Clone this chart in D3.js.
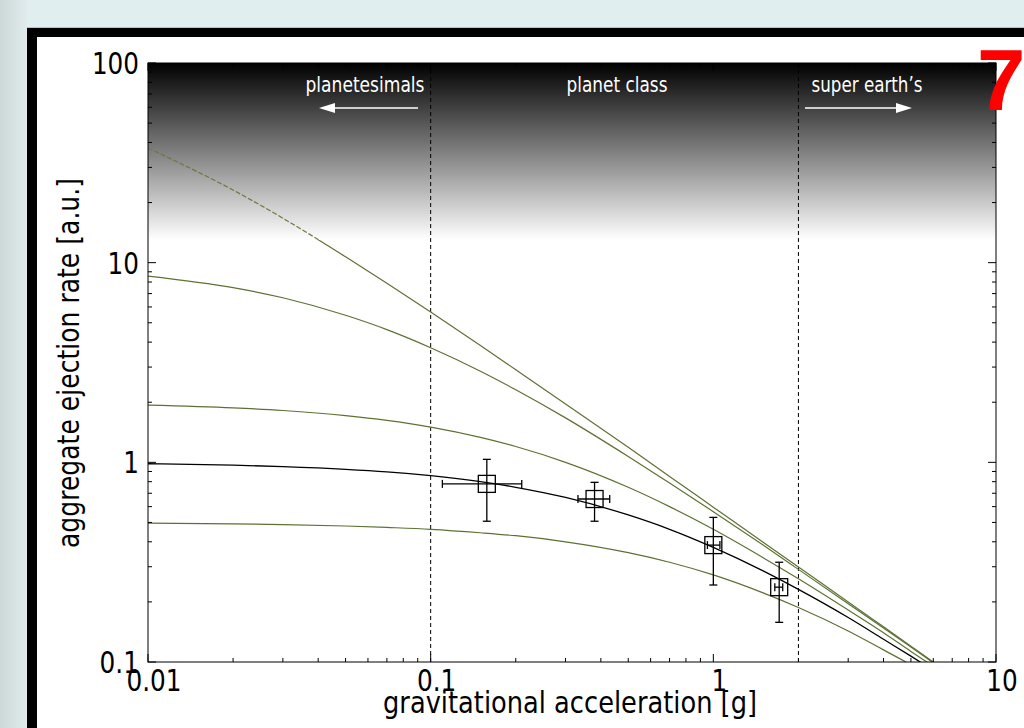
<!DOCTYPE html>
<html>
<head>
<meta charset="utf-8">
<script src="https://cdn.jsdelivr.net/npm/d3@7"></script>
<style>
  html, body { margin: 0; padding: 0; background: #e1eeef; overflow: hidden; }
  svg { display: block; font-family: "DejaVu Sans", sans-serif; }
</style>
</head>
<body>
<script>
// curve samples (x in g, y in a.u.)
const gSamples = [0.01, 0.02, 0.03, 0.05, 0.07, 0.1, 0.15, 0.2, 0.3, 0.5, 0.7, 1, 1.5, 2, 3, 4, 5, 6, 7];
const curve100 = [37.5, 23.1, 16.7, 10.7, 7.89, 5.66, 3.85, 2.91, 1.96, 1.19, 0.85, 0.596, 0.398, 0.299, 0.2, 0.15, 0.12, 0.1, 0.0856];
const curve10  = [8.57, 7.5, 6.67, 5.45, 4.62, 3.75, 2.86, 2.31, 1.67, 1.07, 0.789, 0.566, 0.385, 0.291, 0.196, 0.148, 0.119, 0.099, 0.085];
const curve2   = [1.935, 1.875, 1.818, 1.714, 1.622, 1.5, 1.333, 1.2, 1.0, 0.75, 0.6, 0.462, 0.333, 0.261, 0.182, 0.14, 0.113, 0.0952, 0.0822];
const curve1   = [0.984, 0.968, 0.952, 0.923, 0.896, 0.857, 0.8, 0.75, 0.667, 0.545, 0.462, 0.375, 0.286, 0.231, 0.167, 0.13, 0.107, 0.0909, 0.079];
const curve05  = [0.496, 0.492, 0.488, 0.48, 0.472, 0.462, 0.444, 0.429, 0.4, 0.353, 0.316, 0.273, 0.222, 0.1875, 0.143, 0.115, 0.0968, 0.0833, 0.073];

// measured points with error bars
const ptX    = [0.158, 0.38, 1.0, 1.71];
const ptY    = [0.78, 0.655, 0.385, 0.237];
const ptXlo  = [0.110, 0.332, 0.953, 1.65];
const ptXhi  = [0.210, 0.430, 1.055, 1.76];
const ptYlo  = [0.507, 0.507, 0.243, 0.158];
const ptYhi  = [1.035, 0.794, 0.53, 0.316];

const xTicks = [0.01, 0.1, 1, 10];
const yTicks = [0.1, 1, 10, 100];
const xTickLabels = ['0.01', '0.1', '1', '10'];
const yTickLabels = ['0.1', '1', '10', '100'];
const classBounds = [0.1, 2];
const regionLabels = ['planetesimals', 'planet class', 'super earth\u2019s'];
const fadeTo = 13;   // value where the dark band has faded to white

const width = 1024, height = 728;
const svg = d3.select('body').append('svg').attr('width', width).attr('height', height);
const defs = svg.append('defs');

// page background + frame
const side = defs.append('linearGradient').attr('id', 'side');
side.append('stop').attr('offset', '0%').attr('stop-color', '#cdd8d9');
side.append('stop').attr('offset', '100%').attr('stop-color', '#e0ecec');
svg.append('rect').attr('width', width).attr('height', height).attr('fill', '#e1eeef');
svg.append('rect').attr('width', 27).attr('height', height).attr('fill', 'url(#side)');
svg.append('rect').attr('x', 27).attr('y', 27).attr('width', 1100).attr('height', 1).attr('fill', '#b5c2c3');
svg.append('rect').attr('x', 27).attr('y', 28).attr('width', 1100).attr('height', 800).attr('fill', '#000');
svg.append('rect').attr('x', 37).attr('y', 37).attr('width', 1100).attr('height', 800).attr('fill', '#fff');

const pLeft = 148, pRight = 996, pTop = 63, pBottom = 662;
const x = d3.scaleLog().domain([0.01, 10]).range([pLeft, pRight]);
const y = d3.scaleLog().domain([0.1, 100]).range([pBottom, pTop]);

defs.append('clipPath').attr('id', 'plot').append('rect')
  .attr('x', pLeft).attr('y', pTop).attr('width', pRight - pLeft).attr('height', pBottom - pTop);
defs.append('clipPath').attr('id', 'dark').append('rect')
  .attr('x', pLeft).attr('y', pTop).attr('width', pRight - pLeft).attr('height', y(fadeTo) - pTop);
defs.append('clipPath').attr('id', 'light').append('rect')
  .attr('x', pLeft).attr('y', y(fadeTo)).attr('width', pRight - pLeft).attr('height', pBottom - y(fadeTo));

// dark band at the top
const band = defs.append('linearGradient').attr('id', 'band')
  .attr('gradientUnits', 'userSpaceOnUse')
  .attr('x1', 0).attr('x2', 0).attr('y1', pTop).attr('y2', y(fadeTo));
band.append('stop').attr('offset', '0%').attr('stop-color', '#000');
band.append('stop').attr('offset', '100%').attr('stop-color', '#fff');
svg.append('rect').attr('x', pLeft).attr('y', pTop).attr('width', pRight - pLeft)
  .attr('height', y(fadeTo) - pTop).attr('fill', 'url(#band)');

// class boundaries
svg.append('g').selectAll('line').data(classBounds).join('line')
  .attr('x1', d => x(d)).attr('x2', d => x(d)).attr('y1', pTop).attr('y2', pBottom)
  .attr('stroke', '#000').attr('stroke-width', 1).attr('stroke-dasharray', '4,3');

// curves
const line = d3.line().x((d, i) => x(gSamples[i])).y(d => y(d)).curve(d3.curveMonotoneX);
const green = '#5d7232';
const curves = svg.append('g').attr('clip-path', 'url(#plot)');
[curve10, curve2, curve05].forEach(c => {
  curves.append('path').attr('d', line(c)).attr('fill', 'none').attr('stroke', green).attr('stroke-width', 1.2);
});
curves.append('g').attr('clip-path', 'url(#light)').append('path').attr('d', line(curve100))
  .attr('fill', 'none').attr('stroke', green).attr('stroke-width', 1.2);
curves.append('g').attr('clip-path', 'url(#dark)').append('path').attr('d', line(curve100))
  .attr('fill', 'none').attr('stroke', '#6b7a3a').attr('stroke-width', 1.2).attr('stroke-dasharray', '5,2');
curves.append('path').attr('d', line(curve1)).attr('fill', 'none').attr('stroke', '#000').attr('stroke-width', 1.3);

// data points
const pts = svg.append('g').attr('stroke', '#000').attr('stroke-width', 1.3).attr('fill', 'none');
ptX.forEach((px, i) => {
  const cx = x(px), cy = y(ptY[i]);
  pts.append('line').attr('x1', cx).attr('x2', cx).attr('y1', y(ptYlo[i])).attr('y2', y(ptYhi[i]));
  pts.append('line').attr('x1', cx - 4).attr('x2', cx + 4).attr('y1', y(ptYlo[i])).attr('y2', y(ptYlo[i]));
  pts.append('line').attr('x1', cx - 4).attr('x2', cx + 4).attr('y1', y(ptYhi[i])).attr('y2', y(ptYhi[i]));
  pts.append('line').attr('x1', x(ptXlo[i])).attr('x2', x(ptXhi[i])).attr('y1', cy).attr('y2', cy);
  pts.append('line').attr('x1', x(ptXlo[i])).attr('x2', x(ptXlo[i])).attr('y1', cy - 4).attr('y2', cy + 4);
  pts.append('line').attr('x1', x(ptXhi[i])).attr('x2', x(ptXhi[i])).attr('y1', cy - 4).attr('y2', cy + 4);
  pts.append('rect').attr('x', cx - 8.5).attr('y', cy - 8.5).attr('width', 17).attr('height', 17);
});

// region labels and arrows
const labelX = [365, 617, 867];
svg.append('g').selectAll('text').data(regionLabels).join('text')
  .attr('x', (d, i) => labelX[i]).attr('y', 92)
  .attr('text-anchor', 'middle').attr('fill', '#fff').attr('font-size', 21)
  .attr('textLength', (d, i) => [119, 101, 111][i]).attr('lengthAdjust', 'spacingAndGlyphs')
  .text(d => d);
const arrowY = 108;
svg.append('line').attr('x1', 418).attr('x2', 332).attr('y1', arrowY).attr('y2', arrowY).attr('stroke', '#fff').attr('stroke-width', 1.5);
svg.append('path').attr('d', `M319,${arrowY} L335,${arrowY - 5} L335,${arrowY + 5} Z`).attr('fill', '#fff');
svg.append('line').attr('x1', 805).attr('x2', 898).attr('y1', arrowY).attr('y2', arrowY).attr('stroke', '#fff').attr('stroke-width', 1.5);
svg.append('path').attr('d', `M912,${arrowY} L896,${arrowY - 5} L896,${arrowY + 5} Z`).attr('fill', '#fff');

// axes with inward ticks on all sides
const minorX = [], minorY = [];
for (let e = -2; e < 1; e++) for (let k = 2; k < 10; k++) minorX.push(k * Math.pow(10, e));
for (let e = -1; e < 2; e++) for (let k = 2; k < 10; k++) minorY.push(k * Math.pow(10, e));
const ax = svg.append('g').attr('stroke', '#000').attr('stroke-width', 1);
ax.append('rect').attr('x', pLeft).attr('y', pTop).attr('width', pRight - pLeft).attr('height', pBottom - pTop).attr('fill', 'none');
[[xTicks, 8], [minorX, 4]].forEach(([ticks, len]) => {
  ticks.forEach(t => {
    ax.append('line').attr('x1', x(t)).attr('x2', x(t)).attr('y1', pBottom).attr('y2', pBottom - len);
    ax.append('line').attr('x1', x(t)).attr('x2', x(t)).attr('y1', pTop).attr('y2', pTop + len);
  });
});
[[yTicks, 8], [minorY, 4]].forEach(([ticks, len]) => {
  ticks.forEach(t => {
    ax.append('line').attr('x1', pLeft).attr('x2', pLeft + len).attr('y1', y(t)).attr('y2', y(t));
    ax.append('line').attr('x1', pRight).attr('x2', pRight - len).attr('y1', y(t)).attr('y2', y(t));
  });
});

const numLen = s => s.replace(/[^0-9]/g, '').length * 15.7 + (s.match(/\./g) || []).length * 8;
svg.append('g').selectAll('text').data(yTicks).join('text')
  .attr('x', 139).attr('y', d => y(d) + 11).attr('text-anchor', 'end')
  .attr('font-size', 31).attr('fill', '#000')
  .attr('textLength', (d, i) => numLen(yTickLabels[i])).attr('lengthAdjust', 'spacingAndGlyphs')
  .text((d, i) => yTickLabels[i]);
svg.append('g').selectAll('text').data(xTicks).join('text')
  .attr('x', d => x(d) + 6).attr('y', 691).attr('text-anchor', 'middle')
  .attr('font-size', 31).attr('fill', '#000')
  .attr('textLength', (d, i) => numLen(xTickLabels[i])).attr('lengthAdjust', 'spacingAndGlyphs')
  .text((d, i) => xTickLabels[i]);

svg.append('text').attr('x', 570).attr('y', 713).attr('text-anchor', 'middle')
  .attr('font-size', 30).attr('textLength', 374).attr('lengthAdjust', 'spacingAndGlyphs')
  .text('gravitational acceleration [g]');
svg.append('text').attr('transform', 'translate(79,363) rotate(-90)').attr('text-anchor', 'middle')
  .attr('font-size', 30).attr('textLength', 370).attr('lengthAdjust', 'spacingAndGlyphs')
  .text('aggregate ejection rate [a.u.]');

// slide number
svg.append('text').attr('x', 977).attr('y', 110)
  .attr('font-family', '"Liberation Sans", Arial, sans-serif').attr('font-weight', 'bold')
  .attr('font-size', 87).attr('fill', '#ff0000').text('7');
</script>
</body>
</html>
